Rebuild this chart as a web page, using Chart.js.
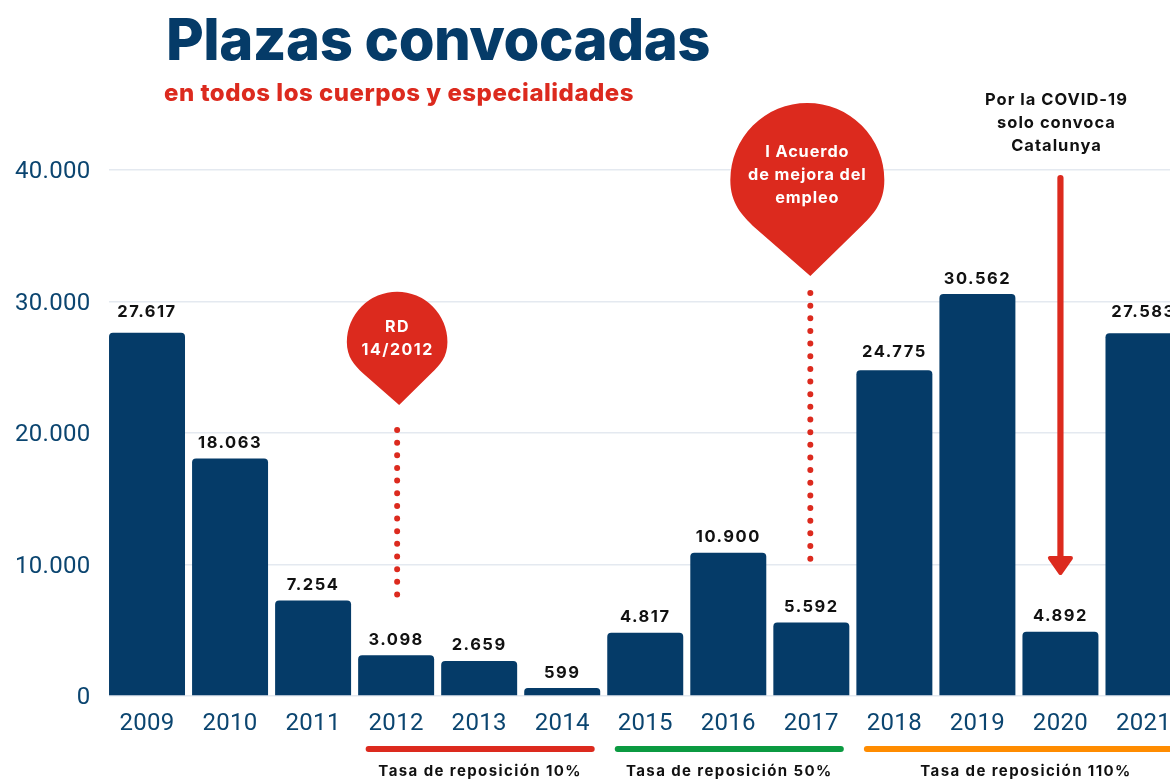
<!DOCTYPE html>
<html>
<head>
<meta charset="utf-8">
<title>Plazas convocadas</title>
<script src="https://cdn.jsdelivr.net/npm/chart.js@4"></script>
<style>
  html, body { margin: 0; padding: 0; background: #fff; overflow: hidden; width: 1170px; height: 780px; }
  canvas { display: block; }
</style>
</head>
<body>
<canvas id="plazasChart" width="1200" height="780"></canvas>
<script>
const years = ['2009', '2010', '2011', '2012', '2013', '2014', '2015', '2016', '2017', '2018', '2019', '2020', '2021'];
const plazas = [27617, 18063, 7254, 3098, 2659, 599, 4817, 10900, 5592, 24775, 30562, 4892, 27583];
const yTicks = [0, 10000, 20000, 30000, 40000];

const periodLabels = ['Tasa de reposición 10%', 'Tasa de reposición 50%', 'Tasa de reposición 110%'];
const periodFrom = ['2012', '2015', '2018'];
const periodTo = ['2014', '2017', '2021'];
const periodColors = ['#DC2A1E', '#0B9A41', '#FF8C00'];

const NAVY = '#053B68';
const RED = '#DC2A1E';

const fmt = v => String(v).replace(/\B(?=(\d{3})+$)/g, '.');

function text(ctx, str, x, y, font, color, align, spacing) {
  ctx.font = font;
  ctx.fillStyle = color;
  ctx.textAlign = align || 'center';
  ctx.textBaseline = 'middle';
  ctx.letterSpacing = spacing || '0px';
  ctx.fillText(str, x, y);
  ctx.letterSpacing = '0px';
}

// gota roja: media luna arriba, lados rectos hasta la punta
function pin(ctx, cx, cy, r, tipX, tipY) {
  ctx.beginPath();
  ctx.moveTo(cx - r, cy);
  ctx.arc(cx, cy, r, Math.PI, Math.PI * 2);
  ctx.bezierCurveTo(cx + r, cy + 0.3 * r, cx + 0.85 * r, cy + 0.46 * r, cx + 0.68 * r, cy + 0.62 * r);
  ctx.lineTo(tipX, tipY);
  ctx.lineTo(cx - 0.68 * r, cy + 0.62 * r);
  ctx.bezierCurveTo(cx - 0.85 * r, cy + 0.46 * r, cx - r, cy + 0.3 * r, cx - r, cy);
  ctx.closePath();
  ctx.fillStyle = RED;
  ctx.fill();
}

function dots(ctx, x, y1, y2) {
  ctx.save();
  ctx.strokeStyle = RED;
  ctx.lineWidth = 6;
  ctx.lineCap = 'round';
  ctx.setLineDash([0, 12.65]);
  ctx.beginPath();
  ctx.moveTo(x, y1);
  ctx.lineTo(x, y2);
  ctx.stroke();
  ctx.restore();
}

const extras = {
  id: 'extras',
  beforeDraw(chart) {
    chart.ctx.letterSpacing = '0.3px';
  },
  beforeDatasetsDraw(chart) {
    // las lineas de rejilla empiezan en la primera barra
    const { ctx, chartArea } = chart;
    ctx.save();
    ctx.fillStyle = '#fff';
    ctx.fillRect(chartArea.left - 1, 0, 4.5, 780);
    ctx.restore();
  },
  afterDraw(chart) {
    const { ctx } = chart;
    const x = chart.scales.x;
    const y = chart.scales.y;
    ctx.save();

    text(ctx, 'Plazas convocadas', 166, 43, '800 58px Inter', NAVY, 'left', '-0.5px');
    text(ctx, 'en todos los cuerpos y especialidades', 164, 94, '800 24px Inter', RED, 'left', '0.5px');

    // etiquetas de valor
    const lift = { '2009': 21, '2018': 18, '2021': 21 };
    plazas.forEach((v, i) => {
      text(ctx, fmt(v), x.getPixelForValue(i), y.getPixelForValue(v) - (lift[years[i]] || 15.5),
        '700 16.5px Inter', '#111', 'center', '1.5px');
    });

    // RD 14/2012
    const x2012 = x.getPixelForValue(years.indexOf('2012'));
    pin(ctx, x2012 + 1, 342, 50.3, x2012 + 3, 405);
    dots(ctx, x2012 + 1, 430, 595);
    text(ctx, 'RD', x2012 + 1.5, 327, '700 16px Inter', '#fff', 'center', '1.5px');
    text(ctx, '14/2012', x2012 + 1.5, 350, '700 16px Inter', '#fff', 'center', '1.5px');

    // I Acuerdo
    const x2017 = x.getPixelForValue(years.indexOf('2017'));
    pin(ctx, x2017 - 4, 180, 77, x2017 - 1, 276);
    dots(ctx, x2017 - 1, 293, 559);
    ['I Acuerdo', 'de mejora del', 'empleo'].forEach((s, i) => {
      text(ctx, s, x2017 - 4, 152 + i * 23, '700 16.3px Inter', '#fff', 'center', '0.9px');
    });

    // COVID
    const x2020 = x.getPixelForValue(years.indexOf('2020'));
    ['Por la COVID-19', 'solo convoca', 'Catalunya'].forEach((s, i) => {
      text(ctx, s, x2020 - 4, 100 + i * 23, '700 16.5px Inter', '#111', 'center', '1px');
    });
    ctx.strokeStyle = RED;
    ctx.fillStyle = RED;
    ctx.lineCap = 'round';
    ctx.lineJoin = 'round';
    ctx.lineWidth = 6.2;
    ctx.beginPath();
    ctx.moveTo(x2020, 178);
    ctx.lineTo(x2020, 560);
    ctx.stroke();
    ctx.lineWidth = 4;
    ctx.beginPath();
    ctx.moveTo(x2020 - 10.5, 558);
    ctx.lineTo(x2020 + 10.5, 558);
    ctx.lineTo(x2020, 573);
    ctx.closePath();
    ctx.fill();
    ctx.stroke();

    // tasas de reposicion
    periodLabels.forEach((label, i) => {
      const a = x.getPixelForValue(years.indexOf(periodFrom[i])) - 30.5;
      const b = x.getPixelForValue(years.indexOf(periodTo[i])) + 32.5;
      ctx.strokeStyle = periodColors[i];
      ctx.lineWidth = 6;
      ctx.lineCap = 'round';
      ctx.beginPath();
      ctx.moveTo(a + 3, 749);
      ctx.lineTo(b - 3, 749);
      ctx.stroke();
      const mid = i === 2 ? 1026 : (a + b) / 2;
      text(ctx, label, mid, 771.5, '700 15px Inter', '#111', 'center', '1.4px');
    });

    ctx.restore();
  }
};

new Chart(document.getElementById('plazasChart').getContext('2d'), {
  type: 'bar',
  data: {
    labels: years,
    datasets: [{
      label: 'Plazas convocadas',
      data: plazas,
      backgroundColor: NAVY,
      borderRadius: { topLeft: 4, topRight: 4 },
      borderSkipped: false,
      barPercentage: 0.915,
      categoryPercentage: 1
    }]
  },
  options: {
    responsive: false,
    animation: false,
    layout: { padding: { top: 170, right: 15, left: 0, bottom: 0 } },
    plugins: { legend: { display: false }, title: { display: false }, tooltip: { enabled: false } },
    scales: {
      x: {
        offset: true,
        afterFit(scale) { scale.height = 84; },
        grid: { display: false },
        border: { display: false },
        ticks: {
          autoSkip: false,
          maxRotation: 0,
          padding: 6,
          color: '#0B4570',
          font: { family: 'Roboto', size: 24, weight: '400' }
        }
      },
      y: {
        min: 0,
        max: 40000,
        afterFit(scale) { scale.width = 105.5; },
        afterBuildTicks(scale) { scale.ticks = yTicks.map(v => ({ value: v })); },
        grid: { color: '#E4E9F0', lineWidth: 1.5, drawTicks: false },
        border: { display: false },
        ticks: {
          padding: 15,
          labelOffset: 2,
          color: '#0B4570',
          font: { family: 'Roboto', size: 24, weight: '400' },
          callback: v => fmt(v)
        }
      }
    }
  },
  plugins: [extras]
});
</script>
</body>
</html>
